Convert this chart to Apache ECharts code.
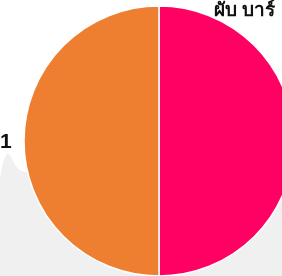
<!DOCTYPE html>
<html>
<head>
<meta charset="utf-8">
<script src="https://cdn.jsdelivr.net/npm/echarts@6/dist/echarts.min.js"></script>
<style>
  html, body { margin: 0; padding: 0; background: #fff; }
  #chart { width: 282px; height: 276px; }
</style>
</head>
<body>
<div id="chart"></div>
<script>
// slice names and values (two equal halves)
var names = ['ผับ บาร์', '1'];
var values = [1, 1];
var colors = ['#FF0063', '#EE7F31'];

var chart = echarts.init(document.getElementById('chart'));

var option = {
  animation: false,
  graphic: [{
    type: 'polygon',
    z: -10,
    shape: {
      points: [[0, 178], [3, 163], [7, 153], [10, 155], [14, 163], [19, 170], [26, 172],
               [60, 168], [282, 168], [282, 276], [0, 276]]
    },
    style: { fill: '#F0F0F0' }
  }],
  series: [{
    type: 'pie',
    center: [159, 141],
    radius: [0, 135],
    startAngle: 90,
    clockwise: true,
    data: names.map(function (n, i) {
      return { name: n, value: values[i], itemStyle: { color: colors[i] } };
    }),
    itemStyle: { borderColor: '#fff', borderWidth: 1.5 },
    label: {
      show: true,
      position: 'inside',
      formatter: '{b}',
      color: '#111',
      fontWeight: 900,
      fontSize: 19,
      fontFamily: 'sans-serif'
    },
    labelLine: { show: false },
    labelLayout: function (p) {
      if (p.dataIndex === 0) {
        return { x: 275, y: 11, align: 'right', verticalAlign: 'middle' };
      }
      return { x: 0, y: 142, align: 'left', verticalAlign: 'middle', fontSize: 21 };
    }
  }]
};

chart.setOption(option);
</script>
</body>
</html>
